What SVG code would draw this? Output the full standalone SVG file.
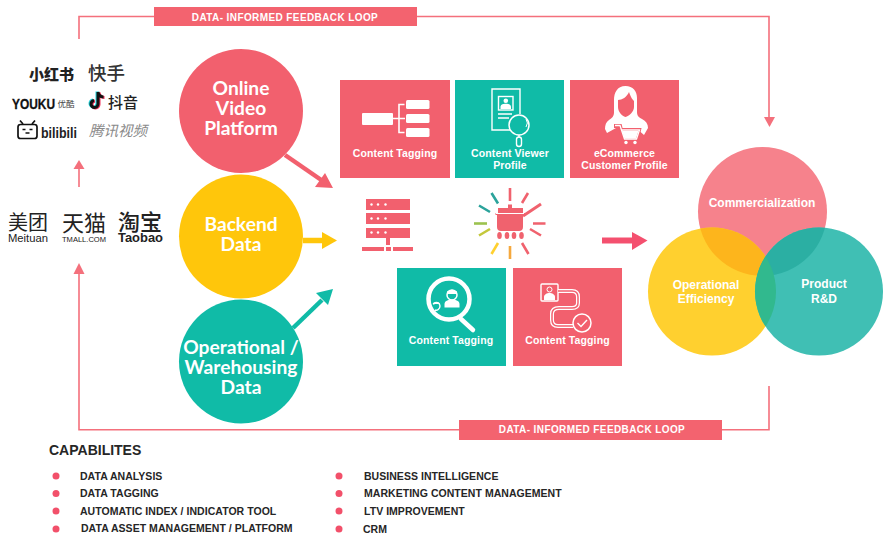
<svg xmlns="http://www.w3.org/2000/svg" width="889" height="539" viewBox="0 0 889 539">
<style>
text{font-family:"Liberation Sans",Arial,sans-serif}
.lbl{font-size:10.5px;font-weight:700;fill:#fff;text-anchor:middle;letter-spacing:.12px}
.big{font-family:Lato,"Liberation Sans",sans-serif;font-size:19.2px;font-weight:700;fill:#fff;text-anchor:middle}
.bar{font-size:10px;font-weight:700;fill:#fff;text-anchor:middle;letter-spacing:.4px}
.ven{font-size:12px;font-weight:700;fill:#fff;text-anchor:middle}
.cap{font-size:10.5px;font-weight:700;fill:#262626;letter-spacing:.04px}
.cjk{font-family:"Noto Sans CJK SC","Liberation Sans",sans-serif;fill:#222}
.fb{fill:none;stroke:#F4707C;stroke-width:1.6}
.w{fill:#fff}
.wl{fill:none;stroke:#fff;stroke-width:1.4}
.pink{fill:#F2606E}
.teal{fill:#10BBA7}
.bul{fill:#F2506A}
.ray{stroke-width:2.6;fill:none}
</style>
<defs>
<clipPath id="cTop"><circle cx="762.5" cy="211.5" r="64.5"/></clipPath>
<clipPath id="cLeft"><circle cx="712" cy="291.5" r="64"/></clipPath>
</defs>

<g id="connectors">
<path class="fb" d="M79 39V16.500H769V120"/>
<polygon points="769.500,127 764,117 775,117" fill="#F4707C"/>
<path class="fb" d="M460 429.700H79V272"/>
<polygon points="79,263 73.500,274 84.500,274" fill="#F4707C"/>
<path class="fb" d="M722 429.700H769V386"/>
<path d="M79 187V167" stroke="#F4707C" stroke-width="1.600" fill="none"/>
<polygon points="79,160 73.500,169 84.500,169" fill="#F4707C"/>
<path d="M285 155L322 180.500" stroke="#F2606E" stroke-width="4.500" fill="none"/>
<polygon points="333,188 315,187 325,173" fill="#F2606E"/>
<path d="M303 240.500H323" stroke="#FFC60B" stroke-width="5.500" fill="none"/>
<polygon points="337,240.500 322,232 322,249" fill="#FFC60B"/>
<path d="M293 328L322 300" stroke="#10BBA7" stroke-width="4.500" fill="none"/>
<polygon points="333,289 316,293 328,305" fill="#10BBA7"/>
<path d="M602 240.500H633" stroke="#F4506F" stroke-width="6" fill="none"/>
<polygon points="647.500,240.500 632,232 632,250" fill="#F4506F"/>
</g>

<g id="bar-top"><rect x="154" y="7" width="263" height="19" fill="#F3636F"/><text class="bar" x="285" y="20.500">DATA- INFORMED FEEDBACK LOOP</text></g>
<g id="bar-bottom"><rect x="459" y="420" width="263" height="20" fill="#F3636F"/><text class="bar" x="592" y="433">DATA- INFORMED FEEDBACK LOOP</text></g>

<g id="logos-top">
<text class="cjk" x="29" y="80" font-size="15" font-weight="900">小红书</text>
<text class="cjk" x="88" y="80" font-size="18.500" font-weight="500" style="fill:#333">快手</text>
<text x="12" y="108.500" font-size="15" font-weight="700" fill="#111" stroke="#111" stroke-width=".3" textLength="43" lengthAdjust="spacingAndGlyphs">YOUKU</text>
<text class="cjk" x="57.500" y="106.500" font-size="8.500" style="fill:#444">优酷</text>
<path d="M98 92V104A3.500 3.500 0 1 1 94 100.500M98 92C98.500 95 100.500 97 103.500 97" fill="none" stroke="#25D4DC" stroke-width="3" transform="translate(-1 -.5)"/>
<path d="M98 92V104A3.500 3.500 0 1 1 94 100.500M98 92C98.500 95 100.500 97 103.500 97" fill="none" stroke="#F0325A" stroke-width="3" transform="translate(1 .5)"/>
<path d="M98 92V104A3.500 3.500 0 1 1 94 100.500M98 92C98.500 95 100.500 97 103.500 97" fill="none" stroke="#111" stroke-width="3"/>
<text class="cjk" x="108" y="107.500" font-size="15" font-weight="500">抖音</text>
<g id="bili-icon" fill="none" stroke="#111" stroke-width="1.700">
<rect x="18" y="124.500" width="19" height="14" rx="2.500"/>
<path d="M23 124L20 120.500M32 124L35 120.500M22.500 129.500H25.500M29.500 129.500H32.500M25.500 133H29.500"/>
</g>
<text x="41" y="138" font-size="15" font-weight="700" fill="#222" textLength="36" lengthAdjust="spacingAndGlyphs">bilibili</text>
<text class="cjk" x="89" y="136" font-size="14.500" font-style="italic" style="fill:#8a8a8a">腾讯视频</text>
</g>

<g id="logos-bottom">
<text class="cjk" x="8" y="230" font-size="20">美团</text>
<text x="8" y="242" font-size="11" fill="#222" textLength="40" lengthAdjust="spacingAndGlyphs">Meituan</text>
<text class="cjk" x="62" y="231" font-size="22">天猫</text>
<text x="62" y="241.500" font-size="8" fill="#222" textLength="44" lengthAdjust="spacingAndGlyphs">TMALL.COM</text>
<text class="cjk" x="118" y="230" font-size="22" font-weight="500">淘宝</text>
<text x="118" y="241.500" font-size="12" font-weight="700" fill="#222" textLength="45" lengthAdjust="spacingAndGlyphs">Taobao</text>
</g>

<g id="node-online"><circle cx="241" cy="111" r="62" fill="#F2606E"/><text class="big" x="241" y="94.500">Online</text><text class="big" x="241" y="114.500">Video</text><text class="big" x="241" y="134.500">Platform</text></g>
<g id="node-backend"><circle cx="241" cy="236.500" r="62" fill="#FFC60B"/><text class="big" x="241" y="230.500">Backend</text><text class="big" x="241" y="250.500">Data</text></g>
<g id="node-operational"><circle cx="241" cy="361.500" r="62" fill="#10BBA7"/><text class="big" x="241" y="353.500">Operational /</text><text class="big" x="241" y="373.500">Warehousing</text><text class="big" x="241" y="393.500">Data</text></g>

<g id="card-tagging-1">
<rect class="pink" x="340" y="80" width="110" height="98"/>
<rect class="w" x="362" y="113" width="31" height="12" rx="1"/>
<rect class="w" x="406" y="100" width="23.500" height="9" rx="1.500"/>
<rect class="w" x="406" y="114" width="23.500" height="9" rx="1.500"/>
<rect class="w" x="406" y="128" width="23.500" height="9" rx="1.500"/>
<path class="wl" d="M393 118.500H405M404.500 104.500H399V132.500H404.500" style="stroke-width:1.600"/>
<text class="lbl" x="395" y="157">Content Tagging</text>
</g>
<g id="card-viewer">
<rect class="teal" x="455" y="80" width="109" height="98"/>
<path class="wl" d="M510 130H492V89H520V114"/>
<rect class="wl" x="498.500" y="96.500" width="14.500" height="13.500"/>
<circle class="w" cx="505.800" cy="100.800" r="2.300"/>
<path class="w" d="M500.500 109V107C500.500 104.500 503 103.800 505.800 103.800S511 104.500 511 107V109Z"/>
<path class="wl" d="M498 114H512M498 118H509"/>
<circle cx="519" cy="125" r="10" fill="#10BBA7" stroke="#fff" stroke-width="1.500"/>
<path class="wl" d="M526 119A7 7 0 0 1 526 127" style="stroke-width:1"/>
<path class="wl" d="M519 135V137"/>
<rect class="wl" x="516.500" y="137" width="5" height="9.500" rx="2.500"/>
<text class="lbl" x="510" y="157">Content Viewer</text>
<text class="lbl" x="510" y="169">Profile</text>
</g>
<g id="card-ecommerce">
<rect class="pink" x="570" y="80" width="109" height="98"/>
<path class="w" d="M625.500 86C617 86 614 93 614 100V113C614 116 612 118 609 120C606 122 605 125 605 129L607 133L616 128H636L644 135L648 128C648 124 646 121 642 119C638 117 637 115 637 112V98C637 91 633 86 625.500 86Z"/>
<path class="pink" d="M618 100C622 100 627 97 629 92C631 98 633 100 634 101V107C634 112 629 116 625.500 117C622 116 618 112 618 107Z"/>
<path d="M614 126H620L624 142H636L639 130H621" fill="#F2606E" stroke="#F2606E" stroke-width="4"/>
<path d="M615 125.500H620L624.500 139H636.500L639.500 130H621.500" fill="none" stroke="#fff" stroke-width="1.300"/>
<path class="w" d="M622 131H638.500L636 138.500H624.500Z"/>
<circle class="w" cx="626" cy="142.500" r="1.700"/><circle class="w" cx="635" cy="142.500" r="1.700"/>
<text class="lbl" x="624.500" y="157">eCommerce</text>
<text class="lbl" x="624.500" y="169">Customer Profile</text>
</g>

<g id="icon-server">
<rect class="pink" x="366" y="199" width="44" height="11"/><rect class="pink" x="366" y="213" width="44" height="11"/><rect class="pink" x="366" y="228" width="44" height="10"/>
<g class="w"><circle cx="371.500" cy="204.500" r="1.200"/><circle cx="378" cy="204.500" r="1.200"/><circle cx="385.500" cy="204.500" r="1.200"/><circle cx="371.500" cy="218.500" r="1.200"/><circle cx="378" cy="218.500" r="1.200"/><circle cx="385.500" cy="218.500" r="1.200"/><circle cx="371.500" cy="232.500" r="1.200"/><circle cx="378" cy="232.500" r="1.200"/><circle cx="385.500" cy="232.500" r="1.200"/></g>
<rect class="pink" x="386" y="238" width="4" height="7"/>
<rect class="pink" x="362" y="247" width="22" height="4"/><rect class="pink" x="386" y="247" width="5" height="4"/><rect class="pink" x="393" y="247" width="20" height="4"/>
</g>
<g id="icon-pot">
<path class="ray" stroke="#F0626E" d="M510 188V201M528 193L522 203M533 223.500H545.500M541 235.500L530 229M528.500 254L522 243"/>
<path d="M523 216L541 204" stroke="#F0626E" stroke-width="3" fill="none"/>
<path class="ray" stroke="#F5A83E" d="M510 246V259"/>
<path class="ray" stroke="#FFD02F" d="M491.500 254L498 243"/>
<path class="ray" stroke="#C4C83B" d="M479 235.500L490 229"/>
<path class="ray" stroke="#9CC24F" d="M474 223.500H487"/>
<path class="ray" stroke="#2BA39B" d="M479 205.500L490 212M491.500 193L498 203.500"/>
<path fill="#F0626E" d="M508 204.500H512V208H523V213H525V215H523V227Q523 231 519 231H501Q497 231 497 227V215H495.500V213H498V208H508Z"/>
<rect x="496" y="213" width="28" height="1" fill="#fff"/>
<g fill="#F0626E"><ellipse cx="499.500" cy="235.500" rx="2.300" ry="3.500"/><ellipse cx="507" cy="235.500" rx="2.300" ry="3.500"/><ellipse cx="514" cy="235.500" rx="2.300" ry="3.500"/><ellipse cx="521.500" cy="235.500" rx="2.300" ry="3.500"/></g>
</g>

<g id="card-tagging-2">
<rect class="teal" x="397" y="268" width="109" height="98"/>
<circle cx="449" cy="299" r="20.500" fill="none" stroke="#fff" stroke-width="4.500"/>
<path d="M461 319L473 330" stroke="#fff" stroke-width="4.500" stroke-linecap="round" fill="none"/>
<circle cx="452" cy="295" r="5" fill="none" stroke="#fff" stroke-width="1.500"/>
<path class="w" d="M444.500 307.500V304C444.500 301 448 299.500 452 299.500S459.500 301 459.500 304V307.500Z"/>
<path class="w" d="M447 294H457V291.500Q452 288 447 291.500Z"/>
<path class="wl" d="M433 304C437 302 440 303 440 306C440 309 437 311 435 310"/>
<path class="w" d="M433 303C436 301 439 301.500 440 304H433Z"/>
<text class="lbl" x="451" y="344">Content Tagging</text>
</g>
<g id="card-tagging-3">
<rect class="pink" x="513" y="268" width="109" height="98"/>
<rect class="wl" x="541" y="284" width="17" height="17" rx="1"/>
<circle cx="549.500" cy="289.500" r="2.500" fill="none" stroke="#fff"/>
<path class="w" d="M544 300V297C544 294.500 547 293 549.500 293S555 294.500 555 297V300Z"/>
<path d="M558 291H572Q578 291 578 297V303Q578 308 572 308H559Q552 308 552 314V320Q552 326 558 326H573" fill="none" stroke="#fff" stroke-width="4"/>
<path d="M558 291H572Q578 291 578 297V303Q578 308 572 308H559Q552 308 552 314V320Q552 326 558 326H573" fill="none" stroke="#F2606E" stroke-width="1.500"/>
<circle cx="582" cy="323" r="9" fill="#F2606E" stroke="#fff" stroke-width="1.500"/>
<path class="wl" d="M577.500 323L581 326.500L587 320"/>
<text class="lbl" x="567.500" y="344">Content Tagging</text>
</g>

<g id="node-venn">
<circle cx="762.500" cy="211.500" r="64.500" fill="#F6828C"/>
<circle cx="712" cy="291.500" r="64" fill="#FFD02F"/>
<circle cx="819" cy="291.500" r="64" fill="#40BFB4"/>
<circle cx="712" cy="291.500" r="64" fill="#FDB51C" clip-path="url(#cTop)"/>
<circle cx="819" cy="291.500" r="64" fill="#2BAFA3" clip-path="url(#cTop)"/>
<circle cx="819" cy="291.500" r="64" fill="#31B98E" clip-path="url(#cLeft)"/>
<text class="ven" x="762" y="207">Commercialization</text>
<text class="ven" x="706" y="289">Operational</text>
<text class="ven" x="706" y="303">Efficiency</text>
<text class="ven" x="824" y="288">Product</text>
<text class="ven" x="824" y="303">R&amp;D</text>
</g>

<g id="capabilities">
<text x="49" y="455" font-size="14" font-weight="700" fill="#262626">CAPABILITES</text>
<g class="bul"><circle cx="56" cy="476" r="3.500"/><circle cx="56" cy="493.500" r="3.500"/><circle cx="56" cy="511" r="3.500"/><circle cx="56" cy="529" r="3.500"/><circle cx="339" cy="476" r="3.500"/><circle cx="339" cy="493.500" r="3.500"/><circle cx="339" cy="511" r="3.500"/><circle cx="339" cy="529" r="3.500"/></g>
<text class="cap" x="80" y="480">DATA ANALYSIS</text>
<text class="cap" x="80" y="497">DATA TAGGING</text>
<text class="cap" x="80" y="515">AUTOMATIC INDEX / INDICATOR TOOL</text>
<text class="cap" x="81" y="532">DATA ASSET MANAGEMENT / PLATFORM</text>
<text class="cap" x="364" y="480">BUSINESS INTELLIGENCE</text>
<text class="cap" x="364" y="497">MARKETING CONTENT MANAGEMENT</text>
<text class="cap" x="364" y="515">LTV IMPROVEMENT</text>
<text class="cap" x="363" y="533">CRM</text>
</g>
</svg>
